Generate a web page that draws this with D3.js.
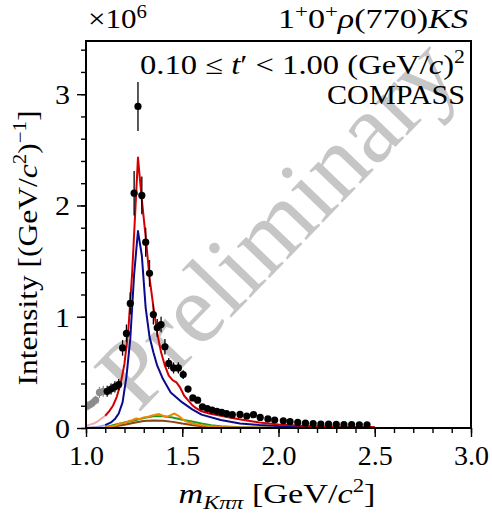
<!DOCTYPE html>
<html><head><meta charset="utf-8">
<script src="https://cdn.jsdelivr.net/npm/d3@7"></script>
<style>body{margin:0;background:#fff}svg text{font-family:"Liberation Serif","DejaVu Serif",serif}</style>
</head><body><svg id="c" width="492" height="515"></svg>
<script>
// ---- data (intensity in units of 1e6) ----
const grayMass = [1.01,1.03,1.05,1.07,1.09];
const grayVal  = [0.20,0.22,0.25,0.32,0.33];
const grayErr  = [0.04,0.04,0.04,0.05,0.05];

const dataMass = [1.11,1.13,1.15,1.17,1.19,1.21,1.23,1.25,1.27,1.29,1.31,1.33,1.35,1.37,1.39,1.41,1.43,1.455,1.48,1.505,1.53,1.555,1.58,1.605,1.63,1.655,1.68,1.705,1.73,1.76,1.80,1.835,1.87,1.905,1.945,1.98,2.025,2.06,2.10,2.14,2.18,2.22,2.26,2.30,2.34,2.38,2.42,2.46];
const dataVal  = [0.33,0.35,0.37,0.39,0.72,0.85,1.12,2.11,2.89,2.09,1.67,1.39,1.02,0.90,0.93,0.73,0.58,0.54,0.54,0.48,0.35,0.27,0.25,0.19,0.175,0.16,0.15,0.14,0.13,0.12,0.122,0.108,0.12,0.095,0.082,0.072,0.065,0.057,0.05,0.043,0.04,0.036,0.034,0.033,0.03,0.03,0.029,0.028];
const dataErr  = [0.05,0.05,0.05,0.05,0.07,0.08,0.10,0.20,0.22,0.17,0.13,0.12,0.09,0.08,0.07,0.07,0.05,0.05,0.05,0.04,0.03,0.02,0.02,0.015,0.01,0.01,0.01,0.01,0.01,0.01,0.01,0.01,0.01,0.01,0.01,0.01,0.01,0.01,0.01,0.01,0.01,0.01,0.01,0.01,0.01,0.01,0.01,0.01];

const redMass = [1.10,1.12,1.14,1.16,1.18,1.20,1.22,1.24,1.27,1.29,1.31,1.33,1.35,1.37,1.39,1.41,1.43,1.45,1.47,1.49,1.51,1.53,1.55,1.57,1.60,1.64,1.70,1.76,1.82,1.90,2.00,2.10,2.20,2.30,2.40,2.50];
const redVal  = [0.11,0.15,0.20,0.28,0.40,0.58,0.88,1.40,2.43,2.05,1.72,1.35,1.09,0.85,0.68,0.56,0.47,0.43,0.41,0.36,0.29,0.25,0.21,0.18,0.15,0.13,0.11,0.09,0.072,0.05,0.032,0.022,0.016,0.012,0.009,0.008];
const pinkMass = [1.00,1.02,1.04,1.06,1.08,1.10];
const pinkVal  = [0.02,0.03,0.04,0.06,0.085,0.11];

const blueMass = [1.10,1.13,1.15,1.17,1.19,1.21,1.23,1.25,1.27,1.29,1.31,1.33,1.35,1.37,1.40,1.44,1.50,1.55,1.60,1.70,1.80,1.90,2.00,2.20,2.50];
const blueVal  = [0.025,0.05,0.08,0.13,0.23,0.46,0.80,1.38,1.77,1.55,1.08,0.82,0.68,0.56,0.44,0.32,0.23,0.17,0.12,0.072,0.04,0.027,0.018,0.01,0.005];
const lblueMass = [1.00,1.05,1.10];
const lblueVal  = [0.003,0.008,0.025];

const greenMass = [1.10,1.15,1.20,1.25,1.30,1.35,1.40,1.45,1.50,1.55,1.60,1.65,1.70,1.80,2.00,2.50];
const greenVal  = [0.008,0.03,0.05,0.068,0.09,0.105,0.105,0.095,0.075,0.058,0.04,0.025,0.015,0.007,0.003,0.001];

const orangeMass = [1.10,1.15,1.18,1.20,1.22,1.24,1.26,1.28,1.30,1.32,1.34,1.36,1.38,1.40,1.42,1.44,1.46,1.48,1.50,1.52,1.55,1.60,1.65,1.70,1.80,2.00,2.50];
const orangeVal  = [0.005,0.02,0.04,0.045,0.06,0.07,0.085,0.08,0.095,0.10,0.11,0.12,0.125,0.11,0.10,0.115,0.13,0.11,0.08,0.06,0.04,0.025,0.015,0.01,0.005,0.003,0.001];

const brownMass = [1.10,1.15,1.20,1.25,1.30,1.35,1.40,1.45,1.50,1.55,1.60,1.70,1.80,2.50];
const brownVal  = [0.005,0.015,0.03,0.048,0.062,0.068,0.065,0.055,0.04,0.027,0.016,0.006,0.002,0.0];

const xMajor = [1.0,1.5,2.0,2.5,3.0];
const yMajor = [0,1,2,3];

// ---- layout ----
const svg = d3.select("#c");
const L=86, R=471, T=41, B=428;
const x = d3.scaleLinear().domain([1,3]).range([L,R]);
const y = d3.scaleLinear().domain([0,3.478]).range([B,T]);

svg.append("defs").append("clipPath").attr("id","pc").append("rect")
  .attr("x",L).attr("y",T).attr("width",R-L).attr("height",B-T);

// watermark
svg.append("text").attr("transform",`translate(284,230) rotate(-46)`)
  .attr("text-anchor","middle").attr("dominant-baseline","middle")
  .attr("font-size",99).attr("fill","#c6c6c6").text("Preliminary");

const g = svg.append("g").attr("clip-path","url(#pc)");
const line = d3.line().x(d=>x(d[0])).y(d=>y(d[1]));
function draw(ms, vs, color, w){
  g.append("path").attr("d",line(ms.map((m,i)=>[m,vs[i]])))
   .attr("fill","none").attr("stroke",color).attr("stroke-width",w).attr("stroke-linejoin","round");
}
draw(pinkMass,pinkVal,"#f5a8a8",2);
draw(lblueMass,lblueVal,"#a8a8e0",2);
draw(brownMass,brownVal,"#8b4513",2);
draw(greenMass,greenVal,"#229922",2);
draw(orangeMass,orangeVal,"#ee8800",2);
draw(blueMass,blueVal,"#0a0a8c",2);

function pts(ms, vs, es, color){
  const gg = g.append("g");
  ms.forEach((m,i)=>{
    gg.append("line").attr("x1",x(m)).attr("x2",x(m)).attr("y1",y(vs[i]-es[i])).attr("y2",y(vs[i]+es[i]))
      .attr("stroke",color).attr("stroke-width",1.3);
    gg.append("circle").attr("cx",x(m)).attr("cy",y(vs[i])).attr("r",3.6).attr("fill",color);
  });
}
pts(grayMass,grayVal,grayErr,"#8c8c8c");
draw(redMass,redVal,"#d40000",2);
pts(dataMass,dataVal,dataErr,"#000");

// axes
const xAx = svg.append("g").attr("transform",`translate(0,${B})`)
  .call(d3.axisBottom(x).tickValues(d3.range(1,3.0001,0.1)).tickFormat("").tickSize(5).tickSizeOuter(0));
const xAx2 = svg.append("g").attr("transform",`translate(0,${B})`)
  .call(d3.axisBottom(x).tickValues(xMajor).tickFormat(d3.format(".1f")).tickSize(9).tickSizeOuter(0).tickPadding(8));
const yAx = svg.append("g").attr("transform",`translate(${L},0)`)
  .call(d3.axisLeft(y).tickValues(d3.range(0,3.4001,0.2)).tickFormat("").tickSize(5).tickSizeOuter(0));
const yAx2 = svg.append("g").attr("transform",`translate(${L},0)`)
  .call(d3.axisLeft(y).tickValues(yMajor).tickFormat(d3.format("d")).tickSize(9).tickSizeOuter(0).tickPadding(7));
[xAx,xAx2,yAx,yAx2].forEach(a=>{
  a.select(".domain").remove();
  a.selectAll("line").attr("stroke","#000").attr("stroke-width",1.4);
  a.selectAll("text").attr("font-size",27).attr("fill","#000").attr("font-family","Liberation Serif");
});
xAx2.selectAll("text").attr("dy","0.75em").attr("textLength",35).attr("lengthAdjust","spacingAndGlyphs");
yAx2.selectAll("text").attr("dy","0.35em").attr("textLength",15).attr("lengthAdjust","spacingAndGlyphs");

// frame
svg.append("rect").attr("x",L).attr("y",T).attr("width",R-L).attr("height",B-T)
  .attr("fill","none").attr("stroke","#000").attr("stroke-width",2);

// texts
const tx = (xx,yy,anchor,size,len)=>svg.append("text").attr("x",xx).attr("y",yy).attr("text-anchor",anchor)
  .attr("font-size",size).attr("fill","#000").attr("textLength",len).attr("lengthAdjust","spacingAndGlyphs");
const t1 = tx(88,28,"start",27,59); t1.append("tspan").text("×10"); t1.append("tspan").attr("dy",-10).attr("font-size",18).text("6");
const t2 = tx(468,28,"end",27,190);
t2.append("tspan").text("1"); t2.append("tspan").attr("dy",-10).attr("font-size",18).text("+");
t2.append("tspan").attr("dy",10).text("0"); t2.append("tspan").attr("dy",-10).attr("font-size",18).text("+");
t2.append("tspan").attr("dy",10).attr("font-style","italic").text("ρ"); t2.append("tspan").text("(770)");
t2.append("tspan").attr("font-style","italic").text("KS");
const t3 = tx(465,74,"end",27,325);
t3.append("tspan").text("0.10 ≤ "); t3.append("tspan").attr("font-style","italic").text("t"); t3.append("tspan").text("′ < 1.00 (GeV/");
t3.append("tspan").attr("font-style","italic").text("c"); t3.append("tspan").text(")");
t3.append("tspan").attr("dy",-11).attr("font-size",18).text("2");
tx(465,104,"end",27,138).text("COMPASS");
const t4 = tx(277,503,"middle",27,197);
t4.append("tspan").attr("font-style","italic").text("m");
t4.append("tspan").attr("dy",6).attr("font-size",19).attr("font-style","italic").text("Kππ");
t4.append("tspan").attr("dy",-6).text(" [GeV/"); t4.append("tspan").attr("font-style","italic").text("c");
t4.append("tspan").attr("dy",-11).attr("font-size",18).text("2"); t4.append("tspan").attr("dy",11).text("]");
const t5 = svg.append("text").attr("transform","translate(37,248) rotate(-90)").attr("text-anchor","middle")
  .attr("font-size",27).attr("fill","#000").attr("textLength",275).attr("lengthAdjust","spacingAndGlyphs");
t5.append("tspan").text("Intensity [(GeV/"); t5.append("tspan").attr("font-style","italic").text("c");
t5.append("tspan").attr("dy",-11).attr("font-size",18).text("2"); t5.append("tspan").attr("dy",11).text(")");
t5.append("tspan").attr("dy",-11).attr("font-size",18).text("−1"); t5.append("tspan").attr("dy",11).text("]");
</script></body></html>
